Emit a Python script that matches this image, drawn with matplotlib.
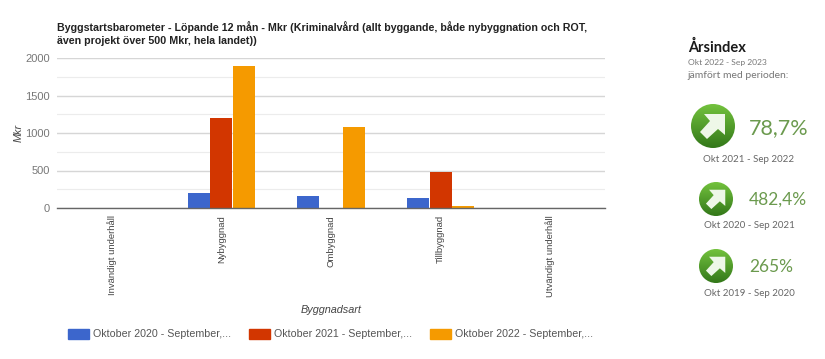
import numpy as np
import matplotlib
matplotlib.use("Agg")
import matplotlib.pyplot as plt
from matplotlib.patches import Circle, Polygon, Rectangle

# data
kategorier = ["Invändigt underhåll", "Nybyggnad", "Ombyggnad", "Tillbyggnad", "Utvändigt underhåll"]
period_2020 = [3, 205, 165, 130, 3]
period_2021 = [3, 1195, 3, 485, 3]
period_2022 = [3, 1895, 1085, 25, 3]
serier = ["Oktober 2020 - September,...", "Oktober 2021 - September,...", "Oktober 2022 - September,..."]
y_ticks = [0, 500, 1000, 1500, 2000]
y_minor = [250, 750, 1250, 1750]
index_varden = ["78,7%", "482,4%", "265%"]
index_perioder = ["Okt 2021 - Sep 2022", "Okt 2020 - Sep 2021", "Okt 2019 - Sep 2020"]

farger = ["#3c66cc", "#d23600", "#f59a00"]
W, H = 825, 359

fig = plt.figure(figsize=(W / 100, H / 100), dpi=100)
plt.rcParams["font.family"] = ["Liberation Sans", "DejaVu Sans"]

ax = fig.add_axes([57 / W, 1 - 208 / H, 548 / W, 150 / H])
x = np.arange(len(kategorier))
bredd = 0.2
for i, varden in enumerate([period_2020, period_2021, period_2022]):
    ax.bar(x + (i - 1) * (bredd + 0.006), varden, bredd, color=farger[i], zorder=3)

ax.set_xlim(-0.5, 4.5)
ax.set_ylim(0, 2000)
ax.set_yticks(y_ticks)
ax.set_yticks(y_minor, minor=True)
ax.grid(axis="y", which="major", color="#d6d6d6", lw=1, zorder=0)
ax.grid(axis="y", which="minor", color="#ececec", lw=0.8, zorder=0)
ax.tick_params(axis="y", which="both", length=0, labelsize=8, labelcolor="#777777", pad=5)
ax.set_xticks(x)
ax.set_xticklabels(kategorier, rotation=90, fontsize=6.8, color="#444444")
ax.tick_params(axis="x", length=0, pad=5)
for s in ["top", "right", "left"]:
    ax.spines[s].set_visible(False)
ax.spines["bottom"].set_color("#666666")
ax.spines["bottom"].set_linewidth(1)
ax.spines["bottom"].set_zorder(4)

# overlay in pixels for titles, legend and the index panel
ov = fig.add_axes([0, 0, 1, 1])
ov.set_xlim(0, W)
ov.set_ylim(H, 0)
ov.axis("off")
ov.patch.set_alpha(0)

ov.text(57, 27.5, "Byggstartsbarometer - Löpande 12 mån - Mkr (Kriminalvård (allt byggande, både nybyggnation och ROT,",
        fontsize=7.67, fontweight="bold", color="#222222", va="center")
ov.text(57, 41, "även projekt över 500 Mkr, hela landet))",
        fontsize=7.67, fontweight="bold", color="#222222", va="center")
ov.text(19, 133, "Mkr", rotation=90, fontsize=7.8, style="italic", color="#444444", ha="center", va="center")
ov.text(331, 310, "Byggnadsart", fontsize=7.8, style="italic", color="#444444", ha="center", va="center")

for lx, namn, farg in zip([68, 249, 430], serier, farger):
    ov.add_patch(Rectangle((lx, 329), 21, 10, color=farg))
    ov.text(lx + 25, 334, namn, fontsize=7.65, color="#555555", va="center")


def ikon(cx, cy, r):
    # gradient circle with a white arrow
    grad = np.linspace(0, 1, 64).reshape(-1, 1)
    topp, botten = np.array([0.45, 0.76, 0.24]), np.array([0.20, 0.47, 0.10])
    bild = topp + (botten - topp) * grad[:, :, None]
    im = ov.imshow(bild, extent=(cx - r, cx + r, cy + r, cy - r), zorder=2, aspect="auto")
    cirkel = Circle((cx, cy), r, transform=ov.transData, fc="none", ec="none")
    ov.add_patch(cirkel)
    im.set_clip_path(cirkel)
    s = r / 22
    punkter = [(-9, -12), (12, -12), (12, 9), (5, 3), (-6, 13), (-13, 6), (-3, -5)]
    ov.add_patch(Polygon([(cx + px * s, cy + py * s) for px, py in punkter], fc="#eef7e8", ec="none", zorder=3))


ikoner = [(713, 126, 22), (716, 199, 17), (716, 266, 17)]
text_y = [(128, 159), (200, 226), (267, 293)]
text_fs = [15.5, 12.5, 12.5]

ov.text(688, 47, "Årsindex", family="Lato", fontsize=10.5, fontweight="bold", color="#1a1a1a", va="center")
ov.text(688, 62, "Okt 2022 - Sep 2023", family="Lato", fontsize=6.1, color="#777777", va="center")
ov.text(687, 76, "jämfört med perioden:", family="Lato", fontsize=7.5, color="#777777", va="center")

for (cx, cy, r), (ty, py), fs, varde, period in zip(ikoner, text_y, text_fs, index_varden, index_perioder):
    ikon(cx, cy, r)
    ov.text(749, ty, varde, family="Lato", fontsize=fs, color="#6b9a4e", va="center")
    ov.text(749, py, period, family="Lato", fontsize=7, color="#666666", ha="center", va="center")

ov.set_xlim(0, W)
ov.set_ylim(H, 0)
fig.savefig("out.png", dpi=100)
